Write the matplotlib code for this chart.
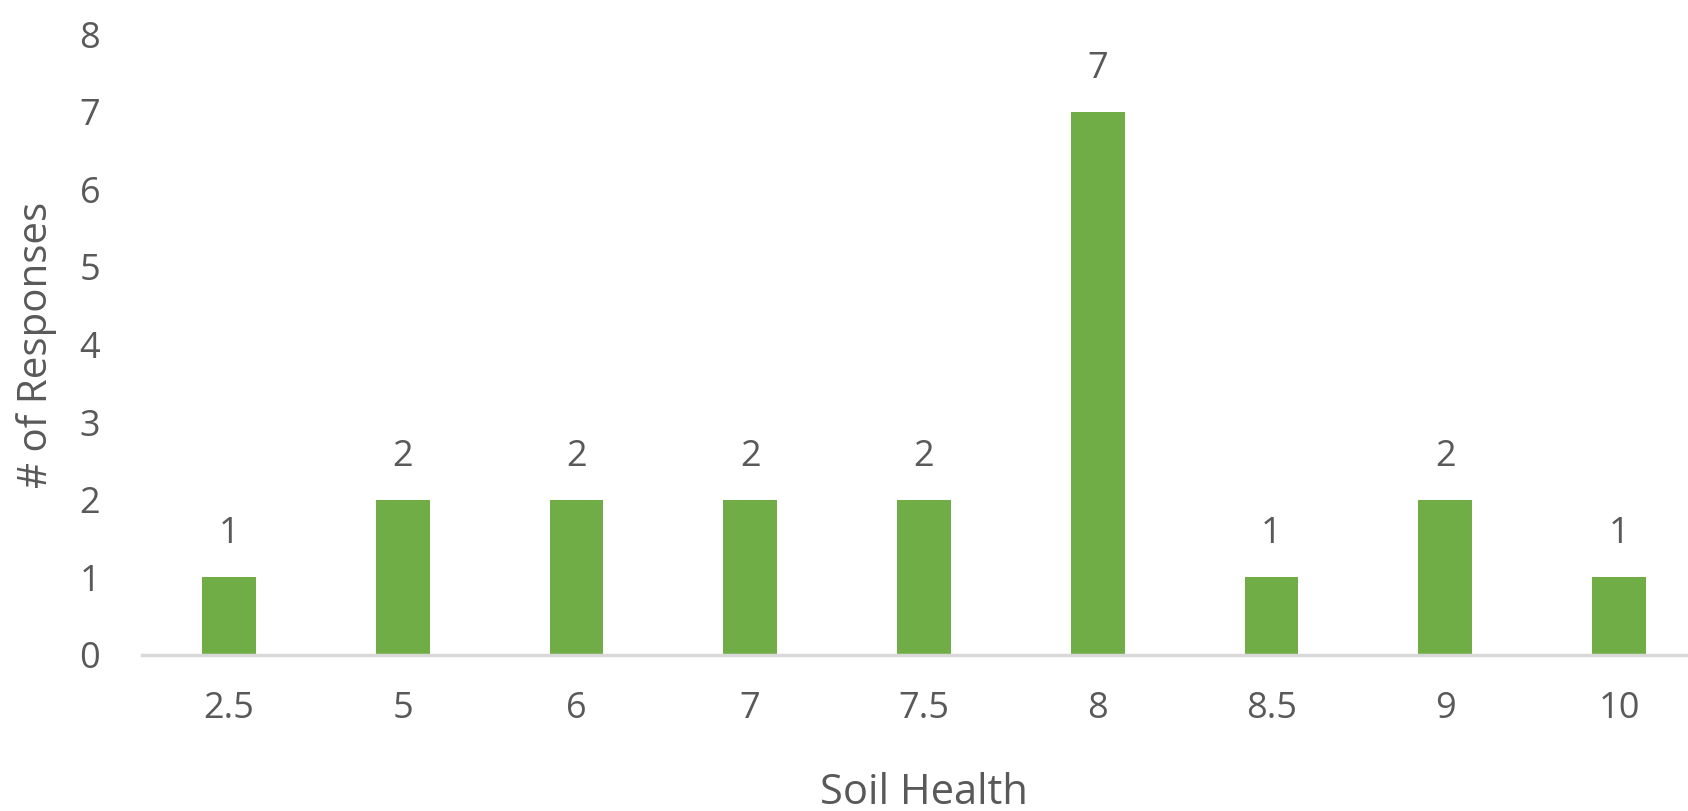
import matplotlib.pyplot as plt
import numpy as np

# dados do gráfico
notas = ["2.5", "5", "6", "7", "7.5", "8", "8.5", "9", "10"]
respostas = [1, 2, 2, 2, 2, 7, 1, 2, 1]

cor_barra = "#70AD47"
cor_texto = "#595959"

plt.rcParams["font.family"] = ["Open Sans", "DejaVu Sans"]

fig = plt.figure(figsize=(16.88, 8.11), dpi=100)
ax = fig.add_axes([142/1688, 156/811, 1564/1688, 621/811])

x = np.arange(len(notas))
barras = ax.bar(x, respostas, width=0.31, color=cor_barra)

for xi, v in zip(x, respostas):
    ax.annotate(str(v), (xi, v), xytext=(0, 18), textcoords="offset points",
                ha="center", va="bottom", fontsize=26, color=cor_texto)

ax.set_xlim(-0.5, len(notas) - 0.5)
ax.set_ylim(0, 8)
ax.set_xticks(x)
ax.set_xticklabels(notas)
ax.set_yticks(range(0, 9))

ax.tick_params(axis="both", length=0, labelsize=26, colors=cor_texto)
ax.tick_params(axis="y", pad=30)
ax.tick_params(axis="x", pad=26)

for lado in ["top", "right", "left"]:
    ax.spines[lado].set_visible(False)
ax.spines["bottom"].set_color("#D9D9D9")
ax.spines["bottom"].set_linewidth(2.5)

ax.set_xlabel("Soil Health", fontsize=30, color=cor_texto, labelpad=32)
ax.set_ylabel("# of Responses", fontsize=29, color=cor_texto, labelpad=16)

plt.savefig("out.png", dpi=100)
plt.close()
